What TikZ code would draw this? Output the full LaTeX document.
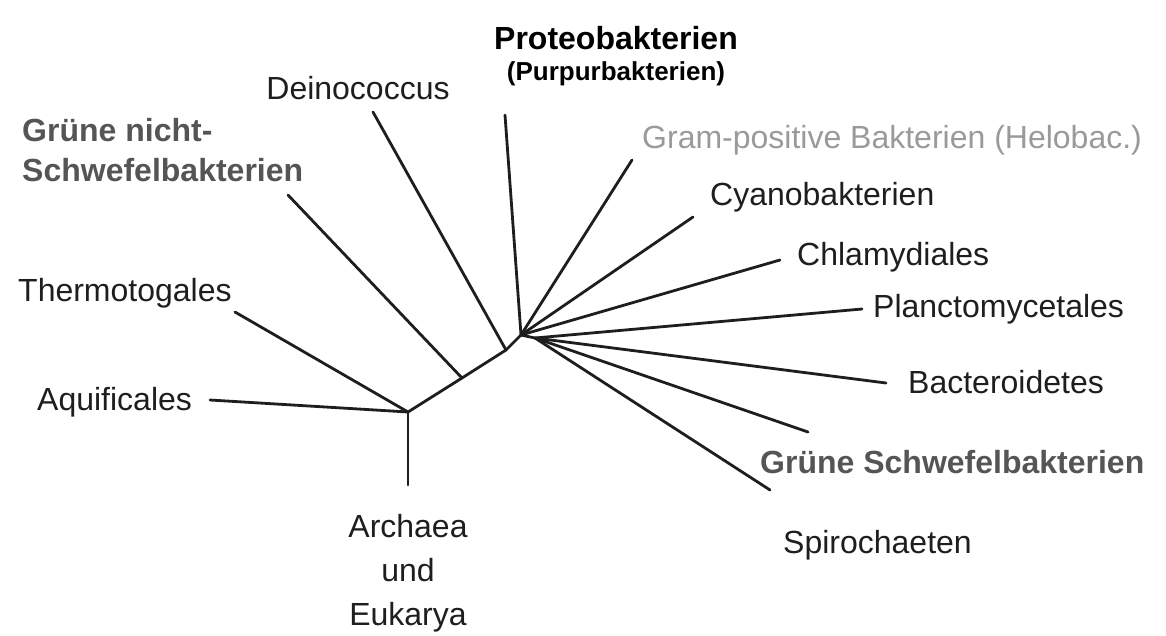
\documentclass[tikz,border=0pt]{standalone}
\usepackage{fontspec}
\setmainfont{Liberation Sans}
\usepackage{tikz}
\usepackage{xcolor}
\definecolor{inkdark}{HTML}{1E1E1E}
\definecolor{inkgreen}{HTML}{555555}
\definecolor{inklight}{HTML}{9A9A9A}

\begin{document}
\begin{tikzpicture}[x=1pt,y=-1pt,
    every node/.style={font=\fontsize{32}{44}\selectfont, text=inkdark, inner sep=0pt},
    branch/.style={line width=2.8pt, draw=inkdark, line cap=round},
    boldlab/.style={font=\fontsize{32}{44}\selectfont\bfseries}]
    \useasboundingbox (0,0) rectangle (1166,635);
    % -------------------------
    % Inner points of the tree
    % -------------------------
    \coordinate (root) at (408, 412);
    \coordinate (gnsfork) at (462, 378);
    \coordinate (deinfork) at (506, 350);
    \coordinate (hubup) at (521, 335);
    \coordinate (hublow) at (535, 338);

    % Tips of the branches
    \coordinate (archtip) at (408, 485);
    \coordinate (aquitip) at (210, 400);
    \coordinate (thermtip) at (235, 312);
    \coordinate (gnstip) at (288, 195);
    \coordinate (deintip) at (373, 112);
    \coordinate (proteotip) at (505, 115);
    \coordinate (gramtip) at (632, 160);
    \coordinate (cyanotip) at (693, 217);
    \coordinate (chlamtip) at (780, 260);
    \coordinate (planctip) at (862, 309);
    \coordinate (bacttip) at (886, 383);
    \coordinate (gstip) at (808, 432);
    \coordinate (spirotip) at (770, 490);

    % -------------------------
    % Trunk
    % -------------------------
    \draw[branch] (root) -- (gnsfork);
    \draw[branch] (gnsfork) -- (deinfork);
    \draw[branch] (deinfork) -- (hubup);
    \draw[branch] (hubup) -- (hublow);

    % -------------------------
    % Left branches
    % -------------------------
    \draw[branch] (root) -- (archtip);
    \draw[branch] (root) -- (aquitip);
    \draw[branch] (root) -- (thermtip);
    \draw[branch] (gnsfork) -- (gnstip);
    \draw[branch] (deinfork) -- (deintip);

    % -------------------------
    % Right fan
    % -------------------------
    \draw[branch] (hubup) -- (proteotip);
    \draw[branch] (hubup) -- (gramtip);
    \draw[branch] (hubup) -- (cyanotip);
    \draw[branch] (hubup) -- (chlamtip);
    \draw[branch] (hublow) -- (planctip);
    \draw[branch] (hublow) -- (bacttip);
    \draw[branch] (hublow) -- (gstip);
    \draw[branch] (hublow) -- (spirotip);

    % -------------------------
    % Labels
    % -------------------------
    \node[boldlab, text=black] (proteo) at (616, 38) {Proteobakterien};
    \node[font=\fontsize{26}{34}\selectfont\bfseries, text=black] (purpur) at (616, 74) {(Purpurbakterien)};
    \node (dein) at (358, 88) {Deinococcus};
    \node[boldlab, text=inkgreen, anchor=west] (gns1) at (22, 130) {Grüne nicht-};
    \node[boldlab, text=inkgreen, anchor=west] (gns2) at (22, 170) {Schwefelbakterien};
    \node[text=inklight, anchor=west] (gram) at (642, 140) {Gram-positive Bakterien (Helobac.)};
    \node[anchor=west] (cyano) at (710, 197) {Cyanobakterien};
    \node[anchor=west] (chlam) at (797, 257) {Chlamydiales};
    \node[anchor=west] (planc) at (873, 309) {Planctomycetales};
    \node[anchor=west] (therm) at (18, 293) {Thermotogales};
    \node[anchor=west] (aqui) at (37, 402) {Aquificales};
    \node[anchor=west] (bact) at (908, 382) {Bacteroidetes};
    \node[boldlab, text=inkgreen, anchor=west] (gs) at (760, 462) {Grüne Schwefelbakterien};
    \node[anchor=west] (spiro) at (783, 545) {Spirochaeten};
    \node[align=center] (arch) at (408, 573) {Archaea\\und\\Eukarya};
\end{tikzpicture}
\end{document}
